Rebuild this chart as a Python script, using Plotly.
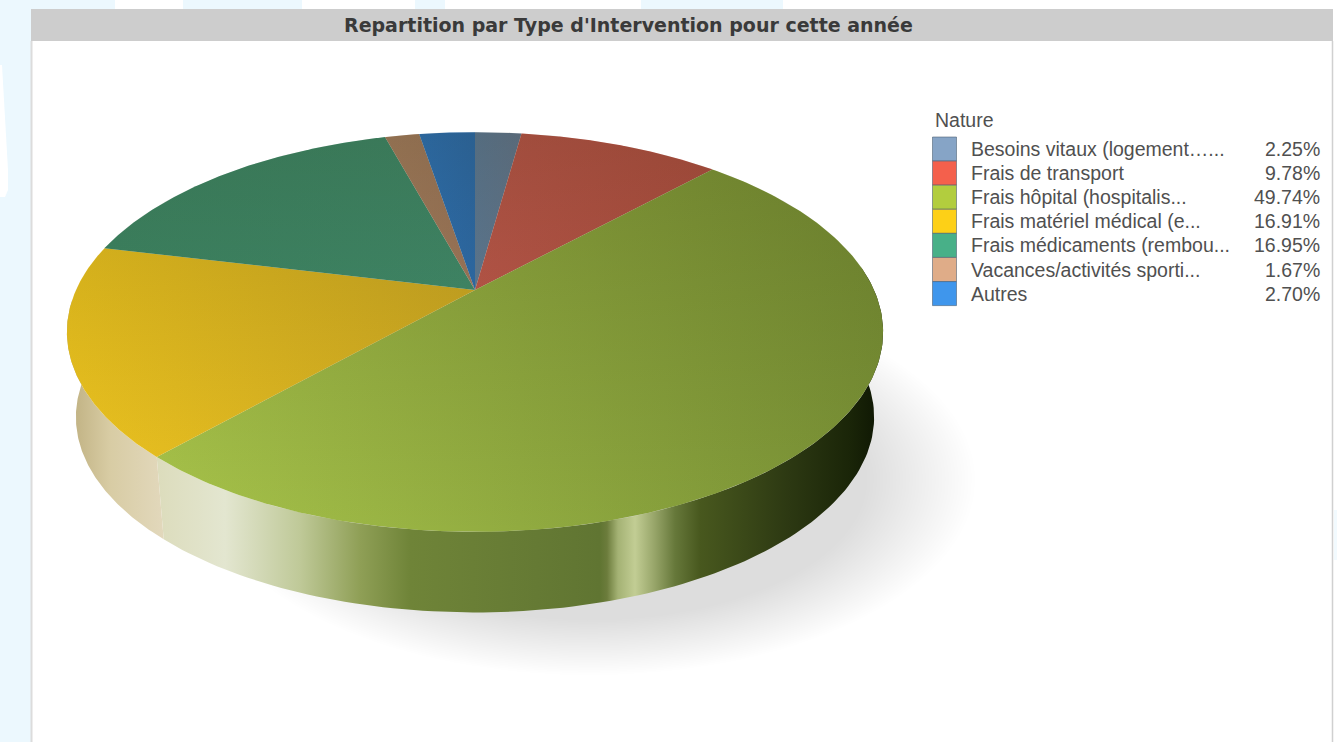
import numpy as np
import plotly.graph_objects as go

title = "Repartition par Type d'Intervention pour cette année"
legend_title = "Nature"
categories = ["Besoins vitaux (logement…...", "Frais de transport", "Frais hôpital (hospitalis...",
              "Frais matériel médical (e...", "Frais médicaments (rembou...",
              "Vacances/activités sporti...", "Autres"]
shares = [2.25, 9.78, 49.74, 16.91, 16.95, 1.67, 2.70]
swatch_colors = ["#86a4c6", "#f4604c", "#b2cd3e", "#fdd017", "#48b088", "#dfac88", "#3f96ec"]
top_left_colors = ["#62809f", "#c45a4e", "#a8c44a", "#f2c820", "#3f8c6a", "#ad8464", "#2f78c2"]
top_right_colors = ["#687c96", "#b85245", "#7a9236", "#d4ae24", "#429070", "#a67c60", "#2e70b4"]

# projection of the pie's circular face on the page
CX, CY = 475.0, 290.0
A, B, K = 399.0, 191.0, 0.21
WALL_SCALE, WALL_DROP = 0.978, 86.0


def project(theta, scale=1.0, drop=0.0):
    u, v = np.sin(theta), np.cos(theta)
    w = 1 + K * v
    return CX + scale * A * u / w, CY - scale * B * v / w + drop


def polygon(xs, ys, stops=None, direction="horizontal", color=None, start=None, stop=None):
    kw = dict(x=list(xs), y=list(ys), mode="lines", fill="toself", line=dict(width=0),
              hoverinfo="skip", showlegend=False)
    if stops:
        kw["fillgradient"] = dict(type=direction, colorscale=stops, start=start, stop=stop)
        kw["fillcolor"] = "rgba(0,0,0,0)"
    else:
        kw["fillcolor"] = color
    return go.Scatter(**kw)


def ramp(x_from, x_to, pairs):
    return [[(x - x_from) / (x_to - x_from), c] for x, c in pairs]


fig = go.Figure()

# soft cast shadow
t = np.linspace(0, 2 * np.pi, 180)
for s in np.linspace(1.0, 0.72, 34):
    fig.add_trace(polygon(590 + 385 * s * np.cos(t), 480 + 195 * s * np.sin(t),
                          color="rgba(70,70,100,0.0095)"))

# side wall
edges = 2 * np.pi * np.cumsum(shares) / sum(shares)
wall_right, wall_left = 1.45, 2 * np.pi - 1.62


def wall(t0, t1):
    th = np.linspace(t0, t1, 120)
    tx, ty = project(th)
    bx, by = project(th[::-1], WALL_SCALE, WALL_DROP)
    return np.r_[tx, bx], np.r_[ty, by]


wx, wy = wall(wall_right, edges[2])
x0, x1 = wx.min(), wx.max()
fig.add_trace(polygon(wx, wy, ramp(x0, x1, [
    (x0, "#dcdcbc"), (225, "#e3e6d0"), (300, "#bfc998"), (360, "#8f9f56"), (410, "#6f8438"),
    (600, "#607532"), (607, "#6c7c3c"), (618, "#a4b274"), (635, "#c2cd94"), (655, "#96a468"),
    (675, "#66783a"), (700, "#48581e"), (790, "#2c3812"), (850, "#1a2508"), (x1, "#0d1503")])))
wx, wy = wall(edges[2], wall_left)
x0, x1 = wx.min(), wx.max()
fig.add_trace(polygon(wx, wy, ramp(x0, x1, [
    (x0, "#bdae7e"), (110, "#d8cca4"), (x1, "#e2d8bc")])))

# top face, one wedge per category
start = 0.0
for end, c0, c1 in zip(edges, top_left_colors, top_right_colors):
    th = np.linspace(start, end, 200)
    px, py = project(th)
    xs, ys = np.r_[CX, px, CX], np.r_[CY, py, CY]
    fig.add_trace(polygon(xs, ys, [[0, c0], [1, c1]]))
    start = end

# overall light falloff towards the back of the face
th = np.linspace(0, 2 * np.pi, 360)
px, py = project(th)
fig.add_trace(polygon(px, py, [[0, "rgba(30,30,0,0)"], [1, "rgba(30,30,0,0.2)"]],
                      direction="vertical", start=float(py.max()), stop=float(py.min())))

# legend
rows = np.arange(len(categories))
row_y = 149 + 24.1 * rows
fig.add_trace(go.Scatter(x=[944.5] * len(rows), y=row_y, mode="markers", hoverinfo="skip", showlegend=False,
                         marker=dict(symbol="square", size=24, color=swatch_colors,
                                     line=dict(color="rgba(70,90,110,0.55)", width=1))))
font = dict(family="Liberation Sans, Arial, sans-serif", size=19.5, color="#505050")
for y, name, share in zip(row_y, categories, shares):
    fig.add_annotation(x=969, y=y, text=name, xanchor="left", yanchor="middle", showarrow=False, font=font)
    fig.add_annotation(x=1322, y=y, text=f"{share:.2f}%", xanchor="right", yanchor="middle", showarrow=False, font=font)
fig.add_annotation(x=933, y=120, text=legend_title, xanchor="left", yanchor="middle", showarrow=False, font=font)
fig.add_annotation(x=628.5, y=25, text=f"<b>{title}</b>", xanchor="center", yanchor="middle", showarrow=False,
                   font=dict(family="DejaVu Sans, sans-serif", size=19, color="#3a3a3a"))

BG = "#ecf8fe"
def band(x0, x1, y0, y1, fill=BG):
    return dict(type="rect", layer="below", xref="x", yref="y", x0=x0, x1=x1, y0=y0, y1=y1,
                fillcolor=fill, line_width=0)

fig.update_layout(
    width=1341, height=742, margin=dict(l=0, r=0, t=0, b=0),
    paper_bgcolor="#ffffff", plot_bgcolor="#ffffff",
    xaxis=dict(range=[0, 1341], visible=False, fixedrange=True),
    yaxis=dict(range=[742, 0], visible=False, fixedrange=True),
    shapes=[
        band(0, 31, 0, 742),
        band(0, 115, 0, 9), band(183, 302, 0, 9), band(415, 445, 0, 9), band(641, 783, 0, 9),
        dict(type="path", layer="below", xref="x", yref="y", path="M0,65 L2,65 L8,170 L8,190 L5,197 L0,197 Z",
             fillcolor="#ffffff", line_width=0),
        band(1334, 1337, 510, 560, "#f2fafe"),
        band(31, 1333, 9, 41, "#cdcdcd"),
        dict(type="line", layer="below", xref="x", yref="y", x0=31.5, x1=31.5, y0=41, y1=742, line=dict(color="#dcdcdc", width=2)),
        dict(type="line", layer="below", xref="x", yref="y", x0=1332.5, x1=1332.5, y0=41, y1=742, line=dict(color="#d0d0d0", width=1.5)),
    ],
)
fig.write_html("out.html", config=dict(displayModeBar=False),
               post_script="document.body.style.margin='0';document.body.style.overflow='hidden';")
